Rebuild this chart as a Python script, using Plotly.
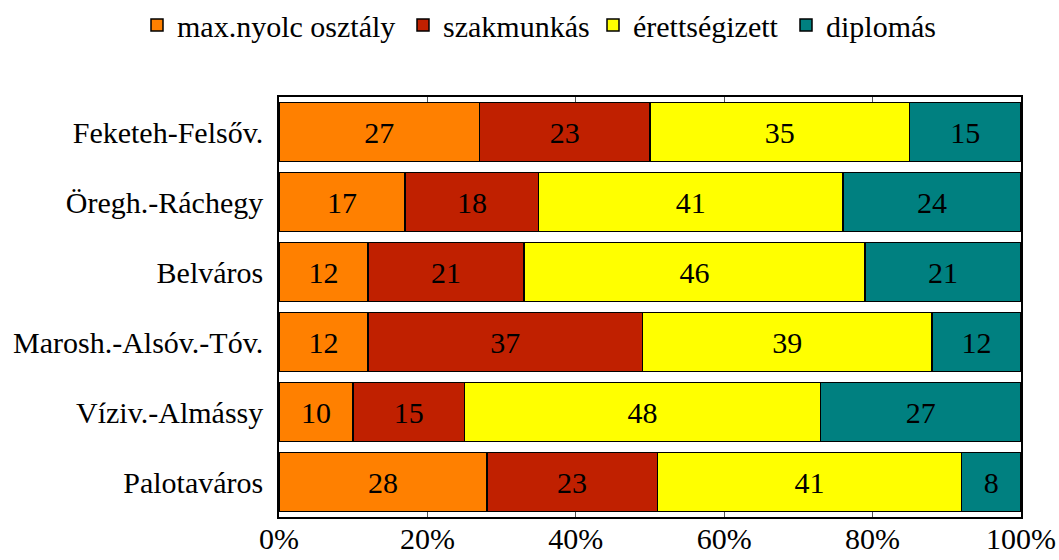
import plotly.graph_objects as go

categories = ["Feketeh-Felsőv.", "Öregh.-Ráchegy", "Belváros",
              "Marosh.-Alsóv.-Tóv.", "Víziv.-Almássy", "Palotaváros"]
series_names = ["max.nyolc osztály", "szakmunkás", "érettségizett", "diplomás"]
max_nyolc = [27, 17, 12, 12, 10, 28]
szakmunkas = [23, 18, 21, 37, 15, 23]
erettsegi = [35, 41, 46, 39, 48, 41]
diplomas = [15, 24, 21, 12, 27, 8]
tick_vals = [0, 20, 40, 60, 80, 100]
tick_text = ["0%", "20%", "40%", "60%", "80%", "100%"]

colors = ["#FF8000", "#C02000", "#FFFF00", "#008080"]
legend_ids = ["legend", "legend2", "legend3", "legend4"]
legend_left_px = [137, 403, 593, 786]
FONT = "Liberation Serif"
FS = 30
W, H = 1059, 560

fig = go.Figure()
for name, vals, col, lg in zip(series_names, [max_nyolc, szakmunkas, erettsegi, diplomas], colors, legend_ids):
    fig.add_trace(go.Bar(
        y=categories, x=vals, name=name, orientation="h", legend=lg,
        showlegend=True,
        marker=dict(color=col, line=dict(color="black", width=1.5)),
        text=[str(v) for v in vals], textposition="inside",
        insidetextanchor="middle", textangle=0,
        textfont=dict(family=FONT, size=FS, color="black"),
        hoverinfo="x+y+name",
    ))

legends = {}
for lg, px in zip(legend_ids, legend_left_px):
    legends[lg] = dict(orientation="h", xref="container", yref="container",
                       x=px / W, xanchor="left", y=1 - 25 / H, yanchor="middle",
                       font=dict(family=FONT, size=FS, color="black"),
                       itemwidth=30, bgcolor="rgba(0,0,0,0)", visible=True)

fig.update_layout(
    barmode="stack", bargap=0.16,
    width=W, height=H, showlegend=True,
    margin=dict(l=279, r=38, t=97, b=43, autoexpand=False),
    plot_bgcolor="white", paper_bgcolor="white",
    font=dict(family=FONT, size=FS, color="black"),
    uniformtext=dict(mode="show", minsize=10),
    xaxis=dict(range=[0, 100], tickvals=tick_vals, ticktext=tick_text,
               showgrid=False, zeroline=False, automargin=False,
               showline=True, linecolor="black", linewidth=1.5, mirror="ticks",
               ticks="inside", ticklen=5, tickcolor="#555", ticklabelstandoff=-6,
               tickfont=dict(family=FONT, size=FS)),
    yaxis=dict(autorange="reversed", showgrid=False, automargin=False,
               showline=True, linecolor="black", linewidth=1.5, mirror=True,
               ticks="", ticklabelstandoff=8,
               tickfont=dict(family=FONT, size=FS)),
    **legends,
)

fig.write_html("out.html", post_script="document.body.style.margin='0px';",
               config={"displayModeBar": False})
